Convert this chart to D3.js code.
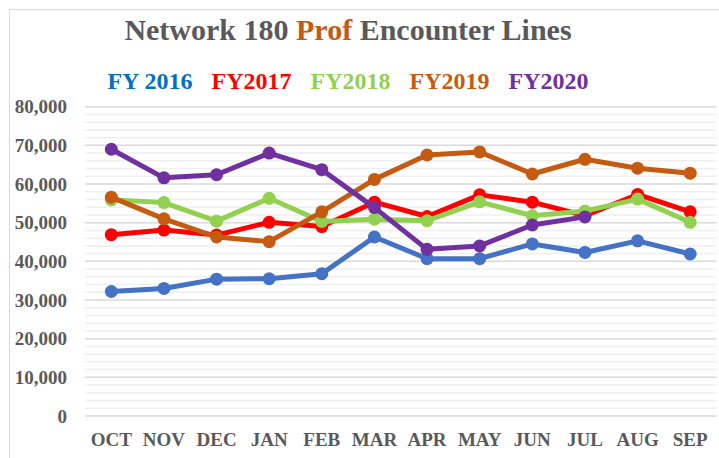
<!DOCTYPE html>
<html>
<head>
<meta charset="utf-8">
<script src="https://cdn.jsdelivr.net/npm/d3@7"></script>
<style>
  body { margin: 0; background: #fff; }
  svg { display: block; font-family: "Times New Roman", "Liberation Serif", serif; font-weight: bold; }
</style>
</head>
<body>
<svg width="719" height="458"></svg>
<script>
// Months of the fiscal year
const months = ["OCT", "NOV", "DEC", "JAN", "FEB", "MAR", "APR", "MAY", "JUN", "JUL", "AUG", "SEP"];

// Encounter counts per fiscal year
const fy2016 = [32200, 33000, 35400, 35500, 36800, 46300, 40700, 40700, 44500, 42300, 45300, 41900];
const fy2017 = [46900, 48100, 46800, 50100, 49000, 55300, 51600, 57200, 55300, 51800, 57300, 52800];
const fy2018 = [55900, 55200, 50400, 56300, 50300, 50900, 50500, 55400, 51800, 53000, 56100, 50100];
const fy2019 = [56600, 51000, 46300, 45100, 52800, 61200, 67500, 68300, 62600, 66400, 64100, 62800];
const fy2020 = [69000, 61600, 62400, 68000, 63700, 53900, 43100, 44000, 49400, 51500, null, null];

const seriesNames = ["FY 2016", "FY2017", "FY2018", "FY2019", "FY2020"];
const seriesValues = [fy2016, fy2017, fy2018, fy2019, fy2020];
const lineColors = ["#4472C4", "#FF0000", "#92D050", "#C55A11", "#7030A0"];
const legendColors = ["#0070C0", "#FF0000", "#92D050", "#C55A11", "#7030A0"];

const yTicks = d3.range(0, 80001, 10000);
const yMinor = d3.range(0, 80001, 2000).filter(v => v % 10000 !== 0);

const svg = d3.select("svg");

// Chart border (cut off at right and bottom)
svg.append("rect")
  .attr("x", 9.5).attr("y", 9.5)
  .attr("width", 740).attr("height", 480)
  .attr("fill", "none")
  .attr("stroke", "#d9d9d9");

const plotLeft = 85, plotRight = 716.5, plotTop = 106.7, plotBottom = 416;

const x = d3.scaleBand().domain(months).range([plotLeft, plotRight]);
const y = d3.scaleLinear().domain([0, 80000]).range([plotBottom, plotTop]);
const cx = m => x(m) + x.bandwidth() / 2;

// Gridlines
svg.append("g")
  .selectAll("line")
  .data(yMinor)
  .join("line")
  .attr("x1", plotLeft).attr("x2", plotRight)
  .attr("y1", d => y(d)).attr("y2", d => y(d))
  .attr("stroke", "#efefef")
  .attr("stroke-width", 1.5);

svg.append("g")
  .selectAll("line")
  .data(yTicks)
  .join("line")
  .attr("x1", plotLeft).attr("x2", plotRight)
  .attr("y1", d => y(d)).attr("y2", d => y(d))
  .attr("stroke", "#d9d9d9")
  .attr("stroke-width", 1.5);

// Axes
const yAxis = svg.append("g")
  .attr("transform", `translate(${plotLeft},0)`)
  .call(d3.axisLeft(y).tickValues(yTicks).tickFormat(d3.format(",")).tickSize(0).tickPadding(18))
  .attr("font-family", null)
  .attr("font-size", 19);
yAxis.select(".domain").remove();
yAxis.selectAll("text").attr("fill", "#595959");

const xAxis = svg.append("g")
  .attr("transform", `translate(0,${plotBottom})`)
  .call(d3.axisBottom(x).tickSize(0).tickPadding(16.5))
  .attr("font-family", null)
  .attr("font-size", 19);
xAxis.select(".domain").remove();
xAxis.selectAll("text").attr("fill", "#595959");

// Series lines and markers
const line = d3.line()
  .defined(d => d.v != null)
  .x(d => cx(d.m))
  .y(d => y(d.v));

seriesValues.forEach((vals, i) => {
  const pts = months.map((m, j) => ({ m: m, v: vals[j] }));
  const g = svg.append("g");
  g.append("path")
    .datum(pts)
    .attr("d", line)
    .attr("fill", "none")
    .attr("stroke", lineColors[i])
    .attr("stroke-width", 5)
    .attr("stroke-linejoin", "round")
    .attr("stroke-linecap", "round");
  g.selectAll("circle")
    .data(pts.filter(d => d.v != null))
    .join("circle")
    .attr("cx", d => cx(d.m))
    .attr("cy", d => y(d.v))
    .attr("r", 6.5)
    .attr("fill", lineColors[i]);
});

// Title
const title = svg.append("text")
  .attr("x", 348).attr("y", 40)
  .attr("text-anchor", "middle")
  .attr("font-size", 30)
  .attr("fill", "#595959");
title.append("tspan").text("Network 180 ");
title.append("tspan").attr("fill", "#C55A11").text("Prof");
title.append("tspan").text(" Encounter Lines");

// Legend (text only, coloured)
const legend = svg.append("g");
const items = legend.selectAll("text")
  .data(seriesNames)
  .join("text")
  .attr("y", 89)
  .attr("font-size", 24)
  .attr("fill", (d, i) => legendColors[i])
  .text(d => d);
let widths = [];
items.each(function () { widths.push(this.getComputedTextLength()); });
const gap = 19;
const total = d3.sum(widths) + gap * (widths.length - 1);
let pos = 348 - total / 2;
items.attr("x", (d, i) => {
  const p = pos;
  pos += widths[i] + gap;
  return p;
});
</script>
</body>
</html>
